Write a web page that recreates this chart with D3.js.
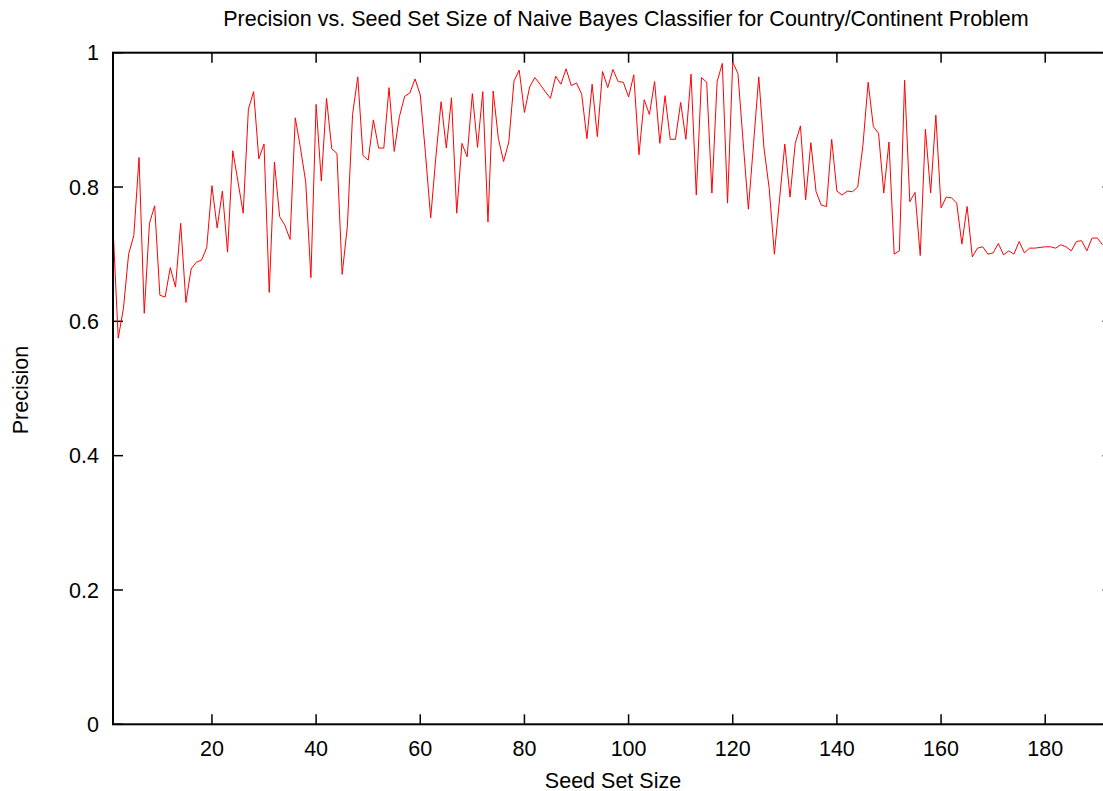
<!DOCTYPE html>
<html lang="en">
<head>
  <meta charset="UTF-8">
  <title>Precision vs. Seed Set Size</title>
  <script src="https://d3js.org/d3.v7.min.js"></script>
</head>

<style>
  body {
    margin: 0;
    padding: 0;
    background: #fff;
  }

  svg {
    display: block;
    font-family: "Liberation Sans", Arial, sans-serif;
  }

  .axis-label, .tick-label, .title {
    fill: #000;
    font-size: 21.5px;
  }
</style>

<body>
<div class="chart"></div>

<script>
  // seed set sizes 1..191 and the precision
  var seedSizes = d3.range(1, 192);
  var precision = [
    0.741, 0.575, 0.619, 0.700, 0.728, 0.844, 0.612, 0.746, 0.772, 0.639,
    0.636, 0.680, 0.651, 0.746, 0.628, 0.678, 0.688, 0.691, 0.710, 0.802,
    0.739, 0.794, 0.703, 0.854, 0.808, 0.761, 0.916, 0.942, 0.842, 0.864,
    0.643, 0.837, 0.756, 0.743, 0.722, 0.903, 0.858, 0.808, 0.665, 0.923,
    0.809, 0.932, 0.857, 0.850, 0.670, 0.741, 0.908, 0.964, 0.847, 0.840,
    0.900, 0.858, 0.858, 0.948, 0.853, 0.905, 0.935, 0.940, 0.961, 0.937,
    0.850, 0.754, 0.845, 0.927, 0.858, 0.933, 0.761, 0.865, 0.845, 0.939,
    0.859, 0.942, 0.748, 0.943, 0.872, 0.838, 0.867, 0.958, 0.974, 0.911,
    0.949, 0.963, 0.953, 0.942, 0.932, 0.965, 0.953, 0.976, 0.951, 0.955,
    0.938, 0.872, 0.953, 0.875, 0.972, 0.948, 0.975, 0.957, 0.956, 0.934,
    0.967, 0.848, 0.930, 0.908, 0.957, 0.865, 0.936, 0.871, 0.871, 0.926,
    0.871, 0.968, 0.788, 0.963, 0.956, 0.791, 0.957, 0.984, 0.776, 0.986,
    0.969, 0.867, 0.767, 0.865, 0.964, 0.858, 0.798, 0.700, 0.783, 0.864,
    0.785, 0.865, 0.891, 0.781, 0.866, 0.793, 0.773, 0.771, 0.871, 0.794,
    0.788, 0.794, 0.793, 0.800, 0.862, 0.956, 0.890, 0.880, 0.791, 0.867,
    0.700, 0.705, 0.959, 0.778, 0.792, 0.698, 0.886, 0.791, 0.907, 0.769,
    0.785, 0.784, 0.776, 0.715, 0.771, 0.696, 0.709, 0.711, 0.700, 0.702,
    0.716, 0.699, 0.705, 0.700, 0.719, 0.702, 0.709, 0.709, 0.710, 0.711,
    0.711, 0.709, 0.714, 0.711, 0.705, 0.719, 0.720, 0.705, 0.724, 0.724,
    0.714
  ];
  var xTicks = [20, 40, 60, 80, 100, 120, 140, 160, 180];
  var yTicks = [0, 0.2, 0.4, 0.6, 0.8, 1];

  var width = 1103, height = 791;
  // plot box edges (the right edge falls just outside the picture)
  var plotLeft = 113, plotRight = 1112.5, plotTop = 52.7, plotBottom = 724.3;
  var tickLen = 10;

  var svg = d3.select('.chart')
    .append('svg')
    .attr('width', width)
    .attr('height', height);

  var x = d3.scaleLinear().domain([1, 192.92]).range([plotLeft, plotRight]);
  var y = d3.scaleLinear().domain([0, 1]).range([plotBottom, plotTop]);

  // title and axis labels
  svg.append('text')
    .attr('class', 'title')
    .attr('x', 626)
    .attr('y', 26)
    .attr('text-anchor', 'middle')
    .text('Precision vs. Seed Set Size of Naive Bayes Classifier for Country/Continent Problem');

  svg.append('text')
    .attr('class', 'axis-label')
    .attr('x', 613)
    .attr('y', 788)
    .attr('text-anchor', 'middle')
    .text('Seed Set Size');

  svg.append('text')
    .attr('class', 'axis-label')
    .attr('transform', 'translate(28,390) rotate(-90)')
    .attr('text-anchor', 'middle')
    .text('Precision');

  // tick marks on all four sides (gnuplot mirror style)
  var ticks = svg.append('g').attr('stroke', '#000').attr('stroke-width', 1.5);

  ticks.selectAll('.xb').data(xTicks).enter().append('line')
    .attr('x1', function(d) { return x(d); }).attr('x2', function(d) { return x(d); })
    .attr('y1', plotBottom).attr('y2', plotBottom - tickLen);
  ticks.selectAll('.xt').data(xTicks).enter().append('line')
    .attr('x1', function(d) { return x(d); }).attr('x2', function(d) { return x(d); })
    .attr('y1', plotTop).attr('y2', plotTop + tickLen);
  ticks.selectAll('.yl').data(yTicks).enter().append('line')
    .attr('x1', plotLeft).attr('x2', plotLeft + tickLen)
    .attr('y1', function(d) { return y(d); }).attr('y2', function(d) { return y(d); });
  ticks.selectAll('.yr').data(yTicks).enter().append('line')
    .attr('x1', plotRight).attr('x2', plotRight - tickLen)
    .attr('y1', function(d) { return y(d); }).attr('y2', function(d) { return y(d); });

  // tick labels
  svg.selectAll('.xlab').data(xTicks).enter().append('text')
    .attr('class', 'tick-label')
    .attr('x', function(d) { return x(d); })
    .attr('y', plotBottom + 31.5)
    .attr('text-anchor', 'middle')
    .text(function(d) { return d; });

  svg.selectAll('.ylab').data(yTicks).enter().append('text')
    .attr('class', 'tick-label')
    .attr('x', plotLeft - 14)
    .attr('y', function(d) { return y(d) + 7.7; })
    .attr('text-anchor', 'end')
    .text(function(d) { return d; });

  // the data line, clipped to the plot box
  svg.append('clipPath').attr('id', 'plot-clip')
    .append('rect')
    .attr('x', plotLeft).attr('y', plotTop)
    .attr('width', plotRight - plotLeft).attr('height', plotBottom - plotTop);

  var line = d3.line()
    .x(function(d, i) { return x(seedSizes[i]); })
    .y(function(d) { return y(d); });

  svg.append('path')
    .datum(precision)
    .attr('clip-path', 'url(#plot-clip)')
    .attr('fill', 'none')
    .attr('stroke', '#ff0000')
    .attr('stroke-width', 1)
    .attr('d', line);

  // plot border
  svg.append('rect')
    .attr('x', plotLeft).attr('y', plotTop)
    .attr('width', plotRight - plotLeft).attr('height', plotBottom - plotTop)
    .attr('fill', 'none')
    .attr('stroke', '#000')
    .attr('stroke-width', 2);
</script>
</body>
</html>
